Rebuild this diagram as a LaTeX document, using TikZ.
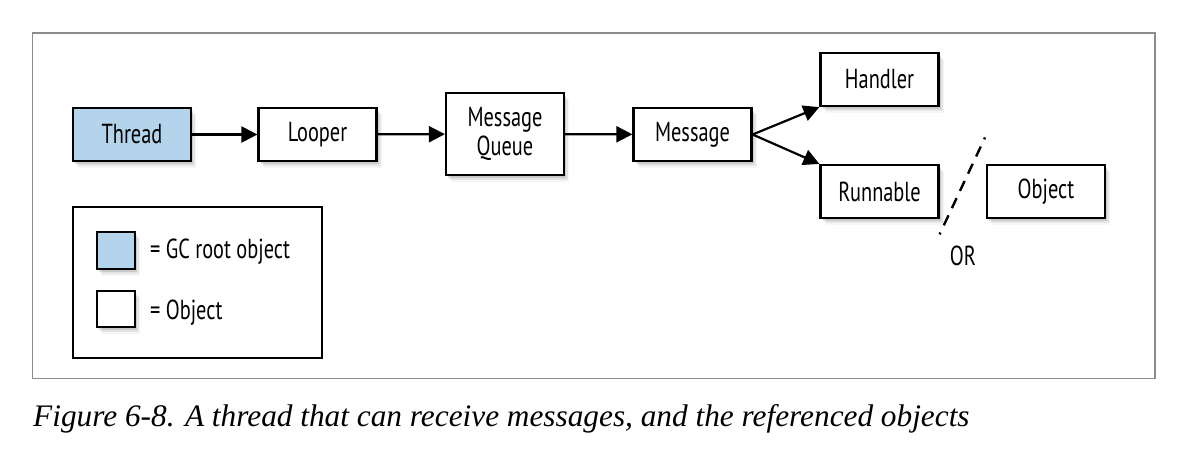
\documentclass[tikz,border=0pt]{standalone}
\usepackage{fontspec}
\newfontfamily\boxfont[FakeStretch=0.74]{PT Sans}
\newfontfamily\capfont{Liberation Serif}
\usetikzlibrary{shadows,arrows.meta}
\definecolor{gcblue}{HTML}{B3D4EB}
\definecolor{framegray}{HTML}{8C8C8C}
\begin{document}
\begin{tikzpicture}[x=1pt,y=-1pt,
  softshadow/.style={drop shadow={shadow xshift=2pt,shadow yshift=-3pt,opacity=0.25},
                     drop shadow={shadow xshift=4pt,shadow yshift=-5pt,opacity=0.15},
                     drop shadow={shadow xshift=5pt,shadow yshift=-7pt,opacity=0.07}},
  boxtext/.style={font=\boxfont\fontsize{27.5}{29}\selectfont},
  obj/.style={draw=black, line width=2.2pt, fill=white, minimum width=118pt, minimum height=53pt,
              inner sep=0pt, align=center, boxtext, softshadow},
  ref/.style={line width=2.2pt, -{Triangle[length=16pt,width=16pt]}},
  orline/.style={line width=2.4pt, dash pattern=on 2pt off 8pt on 11pt off 8pt on 11pt off 8pt on 11pt off 8pt on 11pt off 8pt on 11pt off 8pt on 2pt off 20pt},
]
\useasboundingbox (0,0) rectangle (1196,460);
\fill[white] (0,0) rectangle (1196,460);
\draw[framegray, line width=1.2pt] (32.5,33) rectangle (1155,378.5);

\node[obj, fill=gcblue] (thread) at (132,134.5) {Thread};
\node[obj] (looper) at (317.5,134.5) {Looper};
\node[obj, minimum height=82pt] (mq) at (505,134) {Message\\Queue};
\node[obj] (msg) at (692.5,134.5) {Message};
\node[obj] (handler) at (879.5,79.5) {Handler};
\node[obj] (runnable) at (879.5,191.5) {Runnable};
\node[obj] (object) at (1046,191.5) {Object};

\draw[ref] (thread) -- (looper);
\draw[ref] (looper) -- (mq);
\draw[ref] (mq) -- (msg);
\draw[ref] (msg.east) -- (handler.south west);
\draw[ref] (msg.east) -- (runnable.north west);

\coordinate (dtop) at (985,137.5);
\coordinate (dbot) at (939.3,235);
\draw[orline] (dtop) -- (dbot);
\node[boxtext, inner sep=0pt] (or) at (963,256) {OR};

\node[draw, line width=2.2pt, minimum width=249pt, minimum height=151pt, inner sep=0pt] (legend) at (197.5,282.5) {};
\node[obj, fill=gcblue, minimum width=38pt, minimum height=37pt] (lgc) at (116,250.5) {};
\node[obj, minimum width=38pt, minimum height=36pt] (lobj) at (116,309) {};
\node[boxtext, anchor=west, inner sep=0pt] (lgct) at (150,252) {= GC root object};
\node[boxtext, anchor=west, inner sep=0pt] (lobjt) at (150,313) {= Object};

\node[anchor=base west, inner sep=0pt, font=\capfont\itshape\fontsize{31.3}{32}\selectfont] (cap) at (33,426)
  {Figure 6-8. A thread that can receive messages, and the referenced objects};
\end{tikzpicture}
\end{document}
